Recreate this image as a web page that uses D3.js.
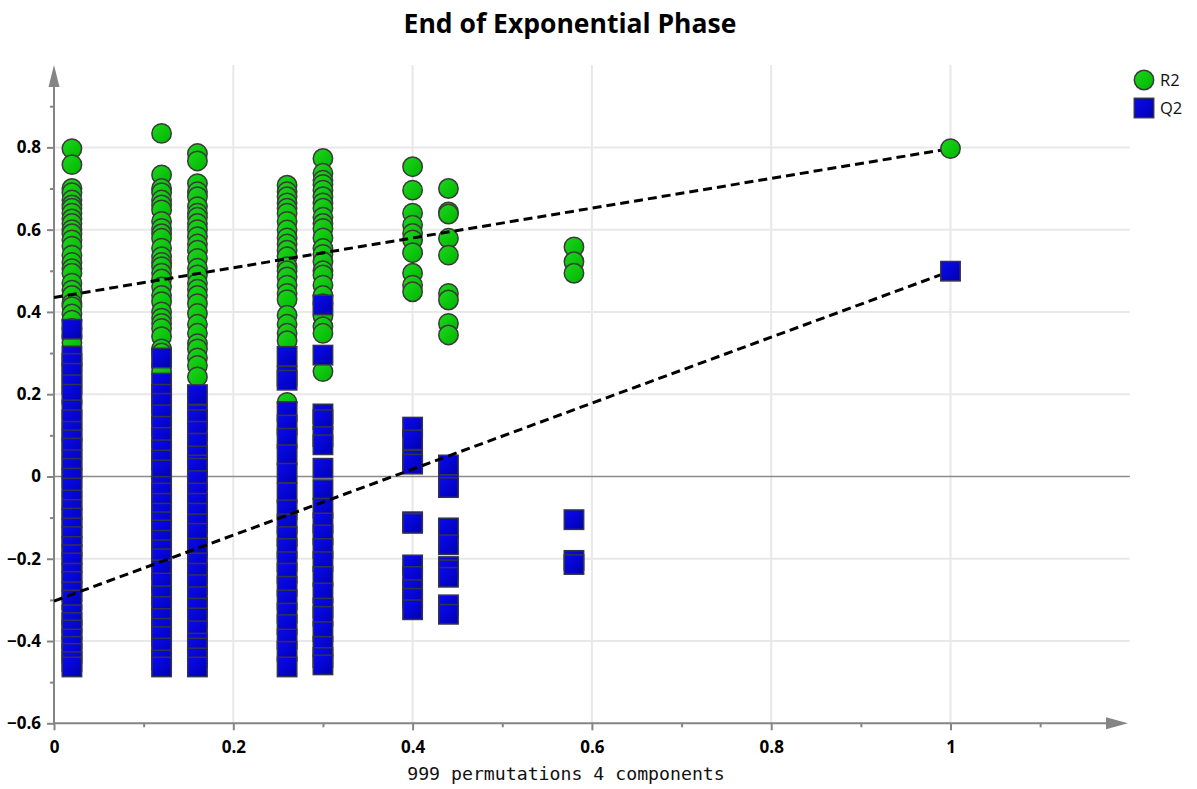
<!DOCTYPE html>
<html>
<head>
<meta charset="utf-8">
<script src="https://cdn.jsdelivr.net/npm/d3@7/dist/d3.min.js"></script>
<style>
  html, body { margin: 0; padding: 0; background: #ffffff; }
  svg { display: block; }
</style>
</head>
<body>
<svg id="chart" width="1197" height="789"></svg>
<script>
// Permutation test: correlation of permuted Y with original Y (x) vs R2 / Q2 (y)
const corrLevels = [0.02, 0.12, 0.16, 0.26, 0.30, 0.40, 0.44, 0.58];

const r2ByLevel = [
  [0.797, 0.758, 0.700, 0.690, 0.672, 0.660, 0.652, 0.640, 0.626, 0.615, 0.600, 0.590, 0.575, 0.560, 0.538, 0.520, 0.505, 0.494, 0.470, 0.453, 0.440, 0.420, 0.413, 0.395, 0.380, 0.360, 0.340, 0.325],
  [0.834, 0.733, 0.700, 0.690, 0.672, 0.660, 0.648, 0.620, 0.603, 0.590, 0.579, 0.555, 0.534, 0.520, 0.510, 0.494, 0.480, 0.461, 0.440, 0.425, 0.400, 0.385, 0.372, 0.360, 0.340, 0.310, 0.300, 0.270, 0.255],
  [0.785, 0.767, 0.712, 0.692, 0.680, 0.656, 0.640, 0.630, 0.615, 0.600, 0.583, 0.565, 0.550, 0.530, 0.506, 0.490, 0.470, 0.455, 0.440, 0.420, 0.396, 0.370, 0.348, 0.323, 0.310, 0.288, 0.270, 0.242],
  [0.708, 0.692, 0.680, 0.665, 0.652, 0.640, 0.620, 0.599, 0.580, 0.565, 0.550, 0.534, 0.510, 0.500, 0.485, 0.465, 0.445, 0.430, 0.392, 0.370, 0.348, 0.330, 0.180],
  [0.773, 0.737, 0.720, 0.710, 0.696, 0.680, 0.665, 0.652, 0.630, 0.615, 0.603, 0.580, 0.554, 0.540, 0.522, 0.500, 0.490, 0.465, 0.440, 0.420, 0.390, 0.364, 0.348, 0.255],
  [0.753, 0.696, 0.640, 0.611, 0.591, 0.575, 0.544, 0.494, 0.465, 0.449],
  [0.700, 0.643, 0.638, 0.579, 0.538, 0.445, 0.429, 0.372, 0.344],
  [0.558, 0.522, 0.494]
];

const q2ByLevel = [
  [0.358, 0.293, 0.275, 0.251, 0.223, 0.200, 0.162, 0.138, 0.110, 0.089, 0.069, 0.041, 0.020, -0.004, -0.028, -0.057, -0.080, -0.101, -0.125, -0.146, -0.170, -0.190, -0.210, -0.235, -0.255, -0.280, -0.300, -0.336, -0.355, -0.373, -0.395, -0.413, -0.430, -0.450, -0.463],
  [0.288, 0.227, 0.200, 0.178, 0.150, 0.122, 0.095, 0.065, 0.040, 0.016, -0.024, -0.040, -0.065, -0.089, -0.110, -0.130, -0.155, -0.178, -0.200, -0.227, -0.259, -0.290, -0.316, -0.345, -0.369, -0.389, -0.417, -0.446, -0.463],
  [0.199, 0.150, 0.138, 0.110, 0.081, 0.050, 0.028, 0.020, -0.010, -0.040, -0.065, -0.089, -0.115, -0.138, -0.174, -0.210, -0.235, -0.263, -0.292, -0.320, -0.344, -0.375, -0.405, -0.417, -0.441, -0.463],
  [0.292, 0.244, 0.234, 0.158, 0.125, 0.093, 0.053, 0.008, -0.040, -0.081, -0.115, -0.146, -0.175, -0.207, -0.235, -0.267, -0.300, -0.332, -0.360, -0.395, -0.425, -0.463],
  [0.417, 0.295, 0.152, 0.138, 0.097, 0.077, 0.020, -0.032, -0.077, -0.113, -0.142, -0.175, -0.207, -0.243, -0.283, -0.320, -0.340, -0.377, -0.413, -0.440, -0.458],
  [0.120, 0.089, 0.040, 0.030, -0.110, -0.114, -0.215, -0.243, -0.275, -0.296, -0.324],
  [0.028, -0.020, -0.027, -0.125, -0.166, -0.219, -0.227, -0.245, -0.312, -0.335],
  [-0.105, -0.204, -0.214]
];

// Unpermuted model and regression intercepts
const originalCorr = 1.0;
const originalR2 = 0.797;
const originalQ2 = 0.499;
const interceptR2 = 0.435;
const interceptQ2 = -0.303;

const xTicks = [0, 0.2, 0.4, 0.6, 0.8, 1];
const xMinorTicks = [0.1, 0.3, 0.5, 0.7, 0.9, 1.1];
const yTicks = [-0.6, -0.4, -0.2, 0, 0.2, 0.4, 0.6, 0.8];
const yMinorTicks = [-0.5, -0.3, -0.1, 0.1, 0.3, 0.5, 0.7, 0.9];

const seriesNames = ["R2", "Q2"];
const titleText = "End of Exponential Phase";
const xAxisTitle = "999 permutations 4 components";

// ---- layout ----
const svg = d3.select("#chart");
const x = d3.scaleLinear().domain([0, 1.2]).range([54, 1129.8]);
const y = d3.scaleLinear().domain([-0.6, 1.0]).range([723.3, 65.1]);
const axisColor = "#858585";
const gridColor = "#e8e8e8";
const fontSans = "'Open Sans', 'Noto Sans', sans-serif";

// gradients for the markers
const defs = svg.append("defs");
const gG = defs.append("linearGradient").attr("id", "gradR2")
  .attr("x1", "0%").attr("y1", "0%").attr("x2", "100%").attr("y2", "100%");
gG.append("stop").attr("offset", "0%").attr("stop-color", "#1cd81c");
gG.append("stop").attr("offset", "100%").attr("stop-color", "#00b400");
const gB = defs.append("linearGradient").attr("id", "gradQ2")
  .attr("x1", "0%").attr("y1", "0%").attr("x2", "100%").attr("y2", "100%");
gB.append("stop").attr("offset", "0%").attr("stop-color", "#0a0af0");
gB.append("stop").attr("offset", "100%").attr("stop-color", "#0000b0");

// title
svg.append("text")
  .attr("x", 570).attr("y", 33)
  .attr("text-anchor", "middle")
  .style("font-family", fontSans)
  .style("font-weight", 700)
  .style("font-size", "26.5px")
  .attr("fill", "#000")
  .text(titleText);

// grid
const grid = svg.append("g");
grid.selectAll("line.h").data(yTicks.filter(d => d !== 0 && d !== -0.6)).join("line")
  .attr("x1", x(0)).attr("x2", x(1.2))
  .attr("y1", d => y(d)).attr("y2", d => y(d))
  .attr("stroke", gridColor).attr("stroke-width", 2);
grid.selectAll("line.v").data(xTicks.filter(d => d !== 0)).join("line")
  .attr("x1", d => x(d)).attr("x2", d => x(d))
  .attr("y1", y(1.0)).attr("y2", y(-0.6))
  .attr("stroke", gridColor).attr("stroke-width", 2);

// zero reference line
svg.append("line")
  .attr("x1", x(0)).attr("x2", x(1.2))
  .attr("y1", y(0)).attr("y2", y(0))
  .attr("stroke", "#8a8a8a").attr("stroke-width", 1.6);

// axes
const fmt = d => d3.format("")(+d.toFixed(1));
const yAxis = d3.axisLeft(y).tickValues(yTicks).tickSize(7).tickPadding(6).tickFormat(fmt);
const yMinor = d3.axisLeft(y).tickValues(yMinorTicks).tickSize(4).tickFormat("");
const xAxis = d3.axisBottom(x).tickValues(xTicks).tickSize(7).tickPadding(11).tickFormat(fmt);
const xMinor = d3.axisBottom(x).tickValues(xMinorTicks).tickSize(4).tickFormat("");

function styleAxis(g) {
  g.select(".domain").remove();
  g.selectAll(".tick line").attr("stroke", axisColor).attr("stroke-width", 2);
  g.selectAll(".tick text")
    .attr("fill", "#000")
    .style("font-family", fontSans)
    .style("font-weight", 700)
    .style("font-size", "17px");
}
svg.append("g").attr("transform", `translate(${x(0)},0)`).call(yAxis).call(styleAxis);
svg.append("g").attr("transform", `translate(${x(0)},0)`).call(yMinor).call(styleAxis);
svg.append("g").attr("transform", `translate(0,${y(-0.6)})`).call(xAxis).call(styleAxis);
svg.append("g").attr("transform", `translate(0,${y(-0.6)})`).call(xMinor).call(styleAxis);

// axis lines with arrow heads
svg.append("line")
  .attr("x1", x(0)).attr("x2", x(0))
  .attr("y1", y(-0.6) + 1).attr("y2", 86)
  .attr("stroke", axisColor).attr("stroke-width", 2);
svg.append("path")
  .attr("d", `M${x(0)},65 L${x(0) - 5.5},87 L${x(0) + 5.5},87 Z`)
  .attr("fill", axisColor);
svg.append("line")
  .attr("x1", x(0) - 1).attr("x2", 1108)
  .attr("y1", y(-0.6)).attr("y2", y(-0.6))
  .attr("stroke", axisColor).attr("stroke-width", 2);
svg.append("path")
  .attr("d", `M1128,${y(-0.6)} L1106,${y(-0.6) - 6} L1106,${y(-0.6) + 6} Z`)
  .attr("fill", axisColor);

// x axis title
svg.append("text")
  .attr("x", 566).attr("y", 780)
  .attr("text-anchor", "middle")
  .style("font-family", "'DejaVu Sans Mono', monospace")
  .style("font-size", "18.2px")
  .attr("fill", "#111")
  .text(xAxisTitle);

// flatten the permutation data
const r2Points = [];
const q2Points = [];
corrLevels.forEach((c, i) => {
  r2ByLevel[i].forEach(v => r2Points.push({ c, v }));
  q2ByLevel[i].forEach(v => q2Points.push({ c, v }));
});

const R = 9.7;
const S = 19.4;
const marks = svg.append("g");
marks.selectAll("circle.r2").data(r2Points).join("circle")
  .attr("cx", d => x(d.c)).attr("cy", d => y(d.v)).attr("r", R)
  .attr("fill", "url(#gradR2)").attr("stroke", "#3a3a3a").attr("stroke-width", 1.5);
marks.selectAll("rect.q2").data(q2Points).join("rect")
  .attr("x", d => x(d.c) - S / 2).attr("y", d => y(d.v) - S / 2)
  .attr("width", S).attr("height", S)
  .attr("fill", "url(#gradQ2)").attr("stroke", "#33334d").attr("stroke-width", 1.5);

// regression lines through intercept and original model
const lineGen = d3.line().x(d => x(d[0])).y(d => y(d[1]));
[[interceptR2, originalR2], [interceptQ2, originalQ2]].forEach(([a, b]) => {
  svg.append("path")
    .attr("d", lineGen([[0, a], [originalCorr, b]]))
    .attr("fill", "none").attr("stroke", "#000")
    .attr("stroke-width", 3).attr("stroke-dasharray", "9,5");
});

// original model points
svg.append("circle")
  .attr("cx", x(originalCorr)).attr("cy", y(originalR2)).attr("r", R)
  .attr("fill", "url(#gradR2)").attr("stroke", "#3a3a3a").attr("stroke-width", 1.5);
svg.append("rect")
  .attr("x", x(originalCorr) - S / 2).attr("y", y(originalQ2) - S / 2)
  .attr("width", S).attr("height", S)
  .attr("fill", "url(#gradQ2)").attr("stroke", "#33334d").attr("stroke-width", 1.5);

// legend
const legend = svg.append("g").attr("transform", "translate(1144,80)");
legend.append("circle").attr("cx", 0).attr("cy", 0).attr("r", R)
  .attr("fill", "url(#gradR2)").attr("stroke", "#3a3a3a").attr("stroke-width", 1.5);
legend.append("rect").attr("x", -S / 2).attr("y", 28 - S / 2).attr("width", S).attr("height", S)
  .attr("fill", "url(#gradQ2)").attr("stroke", "#33334d").attr("stroke-width", 1.5);
legend.selectAll("text").data(seriesNames).join("text")
  .attr("x", 16).attr("y", (d, i) => i * 28 + 6)
  .style("font-family", fontSans)
  .style("font-size", "16.5px")
  .attr("fill", "#111")
  .text(d => d);
</script>
</body>
</html>
